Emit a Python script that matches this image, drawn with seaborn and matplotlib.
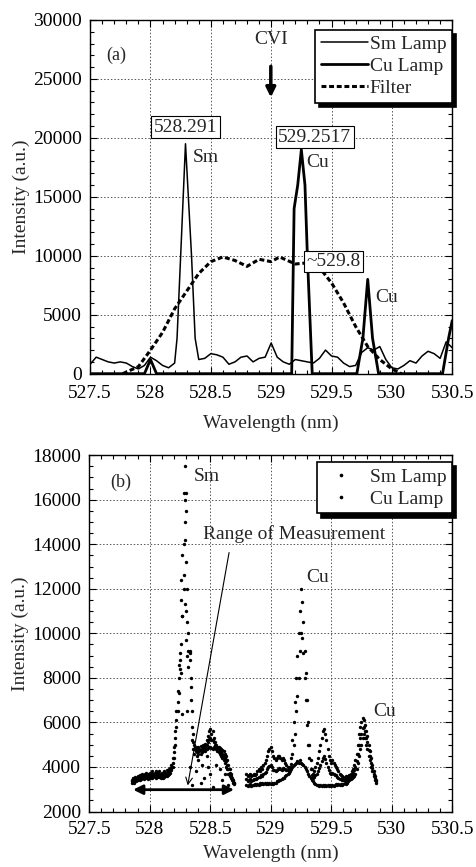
import numpy as np
import pandas as pd
import seaborn as sns
import matplotlib.pyplot as plt
from matplotlib.ticker import MultipleLocator, FormatStrFormatter
from matplotlib.lines import Line2D

# ---- panel (a) : lamp spectra and filter ----
sm_wl = [527.5, 527.55, 527.6, 527.65, 527.7, 527.75, 527.8, 527.85, 527.9, 527.95,
         528.0, 528.05, 528.1, 528.15, 528.2, 528.22, 528.25, 528.29, 528.34, 528.37,
         528.4, 528.45, 528.5, 528.55, 528.6, 528.65, 528.7, 528.75, 528.8, 528.85,
         528.9, 528.95, 529.0, 529.05, 529.1, 529.15, 529.2, 529.25, 529.3, 529.35,
         529.4, 529.45, 529.5, 529.55, 529.6, 529.65, 529.7, 529.75, 529.8, 529.85,
         529.9, 529.95, 530.0, 530.05, 530.1, 530.15, 530.2, 530.25, 530.3, 530.35,
         530.4, 530.45, 530.5]
sm_int = [800, 1400, 1200, 1000, 900, 1000, 900, 600, 400, 700,
          1400, 1100, 700, 500, 900, 3000, 10000, 19500, 10000, 3000,
          1200, 1300, 1700, 1600, 1400, 800, 1000, 1400, 1500, 1000,
          1300, 1400, 2600, 1400, 1000, 800, 1200, 1100, 1000, 900,
          1300, 2000, 1500, 1400, 900, 600, 700, 1800, 2200, 2000,
          2300, 1200, 500, 400, 700, 1100, 900, 1500, 1900, 1700,
          1300, 2700, 2200]

cu_wl = [527.5, 527.95, 528.0, 528.05, 529.17, 529.19, 529.22, 529.25, 529.28, 529.3,
         529.34, 529.71, 529.76, 529.8, 529.84, 529.89, 530.42, 530.47, 530.5]
cu_int = [0, 0, 1200, 0, 0, 14000, 16000, 19000, 16000, 10000,
          0, 0, 3000, 8000, 3000, 0, 0, 3000, 4500]

filt_wl = [527.77, 527.9, 528.0, 528.1, 528.2, 528.3, 528.4, 528.5, 528.6, 528.7,
           528.8, 528.9, 529.0, 529.07, 529.2, 529.3, 529.4, 529.5, 529.6, 529.7,
           529.8, 529.9, 530.0, 530.08]
filt_int = [0, 600, 2000, 3500, 5500, 7000, 8500, 9500, 9900, 9600,
            9100, 9700, 9500, 9900, 9300, 9400, 9000, 7700, 6000, 4000,
            2300, 1200, 400, 0]

# ---- panel (b) : measured points (three bands per lamp) ----
smb_wl = [round(527.85 + 0.01 * i, 2) for i in range(86)]
smb_hi = [3400, 3500, 3450, 3550, 3500, 3600, 3550, 3650, 3600, 3700,
          3650, 3700, 3750, 3650, 3700, 3750, 3700, 3800, 3700, 3750,
          3800, 3700, 3750, 3800, 3700, 3750, 3700, 3800, 3750, 3850,
          3800, 3900, 3950, 4100, 4400, 4900, 5600, 6500, 7400, 8600,
          9100, 11500, 13500, 16300, 17500, 15500, 12000, 10000, 9200, 8000,
          6500, 5500, 5000, 4900, 4850, 4900, 4800, 4950, 4900, 5000,
          4950, 5050, 5200, 5400, 5600, 5700, 5500, 5600, 5300, 5100,
          5000, 4900, 4900, 4850, 4800, 4750, 4700, 4600, 4500, 4300,
          4100, 3900, 3700, 3500, 3400, 3300]
smb_mid = [3350, 3420, 3380, 3470, 3430, 3500, 3500, 3520, 3530, 3600,
           3550, 3600, 3650, 3580, 3570, 3620, 3620, 3650, 3630, 3680,
           3650, 3620, 3680, 3670, 3600, 3650, 3600, 3670, 3680, 3720,
           3720, 3800, 3850, 3970, 4200, 4650, 5300, 6100, 6900, 7300,
           8400, 9500, 10800, 12600, 16000, 13200, 9000, 9200, 8800, 7600,
           5800, 5100, 4800, 4800, 4680, 4750, 4750, 4780, 4780, 4850,
           4850, 4880, 5000, 5100, 5250, 5300, 5200, 5200, 5100, 4980,
           4900, 4800, 4780, 4720, 4650, 4580, 4500, 4400, 4250, 4100,
           3900, 3750, 3600, 3450, 3350, 3280]
smb_lo = [3300, 3350, 3300, 3400, 3350, 3400, 3450, 3400, 3450, 3500,
          3450, 3500, 3550, 3500, 3450, 3500, 3550, 3500, 3550, 3600,
          3500, 3550, 3600, 3550, 3500, 3550, 3500, 3550, 3600, 3600,
          3650, 3700, 3750, 3850, 4000, 4400, 5000, 5800, 6500, 8000,
          8800, 8200, 6400, 14000, 15000, 11000, 6500, 8500, 9100, 7000,
          5200, 4800, 4600, 4700, 4500, 4600, 4700, 4600, 4650, 4700,
          4750, 4700, 4800, 4850, 4900, 4900, 4850, 4800, 4900, 4850,
          4800, 4700, 4650, 4600, 4500, 4400, 4300, 4200, 4000, 3900,
          3700, 3600, 3500, 3400, 3300, 3250]
smb_extra_wl = [528.35, 528.38, 528.40, 528.42, 528.45, 528.48, 528.50, 528.52,
                528.55, 528.58, 528.60, 528.62, 528.65, 528.47, 528.33, 528.30,
                528.31, 528.28, 528.29, 528.30, 528.27, 528.26, 528.29, 528.43]
smb_extra_int = [3200, 3800, 4300, 3300, 3500, 4000, 3700, 3100,
                 4100, 3900, 3400, 3700, 3200, 4500, 4000, 9700,
                 10500, 12000, 14200, 16300, 10800, 12400, 11300, 4100]

cub_wl = [round(528.80 + 0.01 * i, 2) for i in range(108)]
cub_hi = [3700, 3600, 3650, 3700, 3600, 3650, 3700, 3650, 3700, 3800,
          3900, 3800, 4000, 3900, 4100, 4200, 4300, 4500, 4700, 4800,
          4900, 4700, 4500, 4400, 4300, 4400, 4500, 4500, 4400, 4300,
          4400, 4300, 4200, 4100, 4000, 3900, 4000, 4400, 5200, 6000,
          6900, 8000, 9000, 10000, 11000, 12000, 11400, 10500, 9200, 8200,
          7000, 6000, 5000, 4300, 3900, 3700, 3800, 4000, 4200, 4400,
          4700, 5000, 5300, 5600, 5700, 5500, 5200, 4800, 4500, 4300,
          4200, 4300, 4200, 4100, 4000, 3900, 3800, 3700, 3650, 3600,
          3550, 3500, 3600, 3550, 3600, 3650, 3700, 3800, 3900, 4100,
          4300, 4600, 5000, 5500, 5800, 6000, 6200, 6100, 5900, 5600,
          5400, 5000, 4700, 4400, 4100, 3800, 3600, 3400]
cub_mid = [3450, 3380, 3420, 3480, 3380, 3420, 3450, 3450, 3450, 3520,
           3550, 3550, 3620, 3600, 3680, 3750, 3780, 3900, 4000, 4050,
           4100, 4000, 3880, 3850, 3800, 3880, 3920, 3950, 3900, 3880,
           3950, 3900, 3900, 3880, 3850, 3820, 3900, 4150, 4600, 5000,
           5500, 6500, 7200, 8000, 9200, 10000, 9800, 9100, 8000, 7000,
           5900, 5000, 4400, 3900, 3650, 3520, 3550, 3620, 3700, 3800,
           3950, 4100, 4250, 4400, 4500, 4350, 4200, 4000, 3850, 3750,
           3680, 3750, 3680, 3650, 3620, 3550, 3500, 3450, 3450, 3400,
           3400, 3400, 3420, 3420, 3470, 3520, 3570, 3650, 3720, 3850,
           4000, 4250, 4600, 5000, 5300, 5500, 5750, 5800, 5600, 5300,
           5100, 4750, 4500, 4200, 3950, 3700, 3500, 3350]
cub_lo = [3200, 3150, 3200, 3250, 3150, 3200, 3200, 3250, 3200, 3250,
          3200, 3300, 3250, 3300, 3250, 3300, 3250, 3300, 3250, 3300,
          3250, 3300, 3250, 3300, 3300, 3350, 3350, 3400, 3400, 3450,
          3500, 3500, 3600, 3650, 3700, 3750, 3800, 3900, 4000, 4100,
          4150, 4200, 4250, 4200, 4300, 4200, 4150, 4100, 4000, 3900,
          3800, 3700, 3600, 3500, 3400, 3350, 3300, 3250, 3200, 3200,
          3150, 3200, 3150, 3200, 3150, 3200, 3150, 3200, 3150, 3200,
          3150, 3200, 3150, 3200, 3250, 3200, 3250, 3200, 3250, 3200,
          3250, 3300, 3250, 3300, 3350, 3400, 3450, 3500, 3550, 3600,
          3700, 3900, 4200, 4500, 4800, 5000, 5300, 5500, 5300, 5000,
          4800, 4500, 4300, 4000, 3800, 3600, 3400, 3300]

sns.set_theme(style="ticks")
plt.rcParams['font.family'] = ['Liberation Serif', 'DejaVu Serif']

FS = 14
fig = plt.figure(figsize=(4.77, 8.67), dpi=100)
ax1 = fig.add_axes([0.189, 0.569, 0.759, 0.408])
ax2 = fig.add_axes([0.187, 0.064, 0.761, 0.411])


def style_axis(ax, ymin, ymax, ymaj, ymin_step, xpad, lpad):
    ax.set_xlim(527.5, 530.5)
    ax.set_ylim(ymin, ymax)
    ax.xaxis.set_major_locator(MultipleLocator(0.5))
    ax.xaxis.set_minor_locator(MultipleLocator(0.1))
    ax.yaxis.set_major_locator(MultipleLocator(ymaj))
    ax.yaxis.set_minor_locator(MultipleLocator(ymin_step))
    ax.xaxis.set_major_formatter(FormatStrFormatter('%g'))
    ax.tick_params(which='both', direction='in', top=True, right=True, colors='black',
                   labelsize=FS, width=0.8)
    ax.tick_params(which='major', length=5)
    ax.tick_params(which='minor', length=3)
    ax.tick_params(axis='x', which='major', pad=xpad)
    ax.tick_params(axis='y', which='major', pad=6)
    ax.grid(True, which='major', linestyle=(0, (1.5, 2)), color='#555555', linewidth=0.7)
    for s in ax.spines.values():
        s.set_color('black')
        s.set_linewidth(1.0)
    ax.set_xlabel('Wavelength (nm)', fontsize=FS, labelpad=lpad)
    ax.set_ylabel('Intensity (a.u.)', fontsize=FS, labelpad=2)


# panel (a)
sns.lineplot(x=sm_wl, y=sm_int, ax=ax1, color='black', linewidth=1.1, label='Sm Lamp')
sns.lineplot(x=cu_wl, y=cu_int, ax=ax1, color='black', linewidth=2.0, label='Cu Lamp')
sns.lineplot(x=filt_wl, y=filt_int, ax=ax1, color='black', linewidth=2.2,
             linestyle=(0, (1.6, 0.9)), label='Filter')
style_axis(ax1, 0, 30000, 5000, 1000, 8, 9)

leg1 = ax1.legend(loc='upper right', bbox_to_anchor=(1.0, 0.972), fontsize=FS,
                  frameon=True, fancybox=False, edgecolor='black', framealpha=1,
                  shadow={'color': 'black', 'alpha': 1, 'ox': 3, 'oy': -3},
                  handlelength=2.4, handletextpad=0.1, labelspacing=0.22,
                  borderpad=0.3, borderaxespad=0.0)
leg1.get_frame().set_linewidth(1.2)

ax1.text(527.72, 27000, '(a)', fontsize=FS - 1, ha='center', va='center')
ax1.text(528.997, 28300, 'CVI', fontsize=FS, ha='center', va='center')
ax1.annotate('', xy=(528.997, 23200), xytext=(528.997, 26300),
             arrowprops=dict(arrowstyle='-|>', lw=2.5, color='black', mutation_scale=14))
box = dict(boxstyle='square,pad=0.12', fc='white', ec='black', lw=0.8)
ax1.text(528.29, 20900, '528.291', fontsize=FS, ha='center', va='center', bbox=box)
ax1.text(529.36, 20050, '529.2517', fontsize=FS, ha='center', va='center', bbox=box)
ax1.text(529.52, 9500, '~529.8', fontsize=FS, ha='center', va='center', bbox=box)
ax1.text(528.35, 18300, 'Sm', fontsize=FS, ha='left', va='center')
ax1.text(529.29, 17900, 'Cu', fontsize=FS, ha='left', va='center')
ax1.text(529.86, 6500, 'Cu', fontsize=FS, ha='left', va='center')

# panel (b)
sm_df = pd.DataFrame({'wl': smb_wl * 3 + smb_extra_wl,
                      'inten': smb_hi + smb_mid + smb_lo + smb_extra_int})
cu_df = pd.DataFrame({'wl': cub_wl * 3,
                      'inten': cub_hi + cub_mid + cub_lo})
sns.scatterplot(data=sm_df, x='wl', y='inten', ax=ax2, color='black', s=6,
                linewidth=0, legend=False)
sns.scatterplot(data=cu_df, x='wl', y='inten', ax=ax2, color='black', s=6,
                linewidth=0, legend=False)
style_axis(ax2, 2000, 18000, 2000, 500, 7, 5)

handles = [Line2D([], [], marker='o', markersize=1.6, color='black', linestyle=''),
           Line2D([], [], marker='o', markersize=1.6, color='black', linestyle='')]
leg2 = ax2.legend(handles, ['Sm Lamp', 'Cu Lamp'], loc='upper right',
                  bbox_to_anchor=(1.0, 0.98), fontsize=FS, frameon=True, fancybox=False,
                  edgecolor='black', framealpha=1,
                  shadow={'color': 'black', 'alpha': 1, 'ox': 3, 'oy': -3},
                  handlelength=1.8, handletextpad=0.6, labelspacing=0.22,
                  borderpad=0.3, borderaxespad=0.0)
leg2.get_frame().set_linewidth(1.2)

ax2.text(527.76, 16800, '(b)', fontsize=FS - 1, ha='center', va='center')
ax2.text(528.36, 17050, 'Sm', fontsize=FS, ha='left', va='center')
ax2.text(528.44, 14450, 'Range of Measurement', fontsize=FS, ha='left', va='center')
ax2.text(529.29, 12500, 'Cu', fontsize=FS, ha='left', va='center')
ax2.text(529.85, 6500, 'Cu', fontsize=FS, ha='left', va='center')
ax2.annotate('', xy=(528.31, 3050), xytext=(528.66, 13750),
             arrowprops=dict(arrowstyle='->', lw=0.8, color='black', mutation_scale=12))
ax2.annotate('', xy=(527.84, 2980), xytext=(528.72, 2980),
             arrowprops=dict(arrowstyle='<|-|>', lw=2.0, color='black', mutation_scale=14))

fig.savefig('out.png', dpi=100)
